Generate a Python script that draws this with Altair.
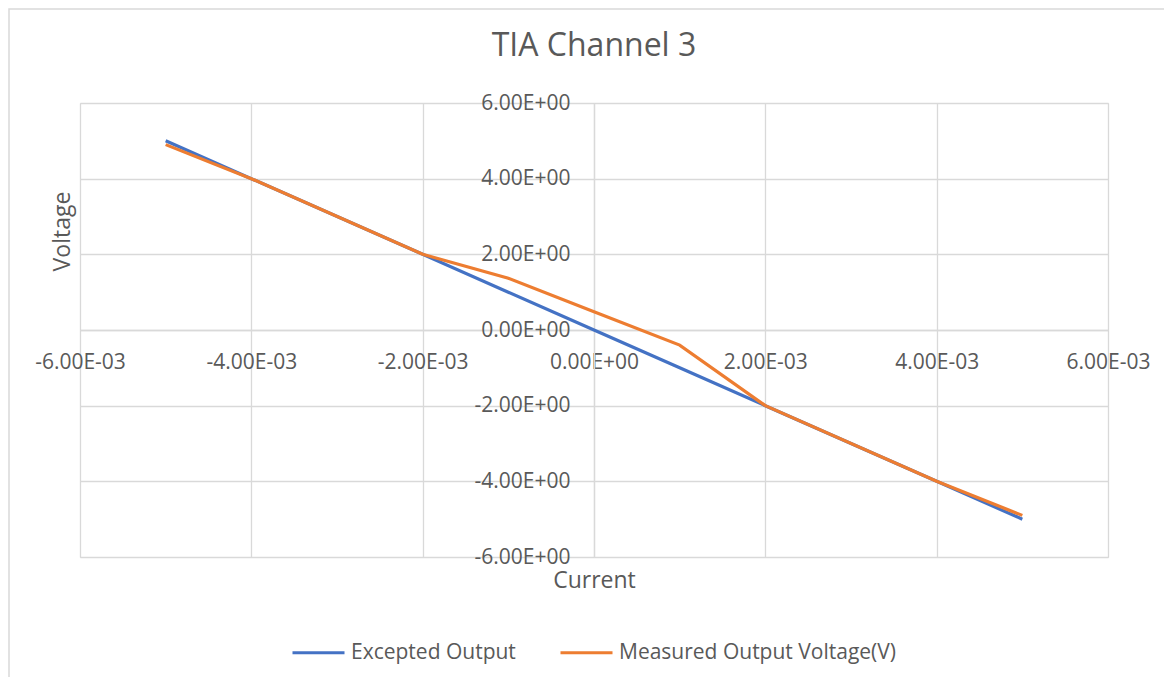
import altair as alt
import pandas as pd

# Data
current = [-5e-3, -4e-3, -2e-3, -1e-3, 0.0, 1e-3, 2e-3, 4e-3, 5e-3]
expected = [5.0, 4.0, 2.0, 1.0, 0.0, -1.0, -2.0, -4.0, -5.0]
measured = [4.9, 4.0, 2.0, 1.37, 0.48, -0.40, -2.0, -4.0, -4.9]
series_names = ["Excepted Output", "Measured Output Voltage(V)"]
series_colors = ["#4472C4", "#ED7D31"]

x_ticks = [-6, -4, -2, 0, 2, 4, 6]  # in units of 1e-3
x_labels = ["-6.00E-03", "-4.00E-03", "-2.00E-03", "0.00E+00", "2.00E-03", "4.00E-03", "6.00E-03"]
y_ticks = [-6, -4, -2, 0, 2, 4, 6]
y_labels = ["-6.00E+00", "-4.00E+00", "-2.00E+00", "0.00E+00", "2.00E+00", "4.00E+00", "6.00E+00"]

rows = []
for i, c in enumerate(current):
    rows.append({"Current": c, "Voltage": expected[i], "Series": series_names[0], "order": i})
for i, c in enumerate(current):
    rows.append({"Current": c, "Voltage": measured[i], "Series": series_names[1], "order": i})
df = pd.DataFrame(rows)

W, H = 1028, 454
FONT = "Open Sans"
TXT = "#595959"
GRID = "#d9d9d9"

xv = [t / 1000 for t in x_ticks]
yv = [float(t) for t in y_ticks]

x_label_expr = "[" + ",".join("'%s'" % s for s in x_labels) + "][indexof([" + ",".join(str(t) for t in x_ticks) + "], round(datum.value*1000))]"
y_label_expr = "[" + ",".join("'%s'" % s for s in y_labels) + "][indexof([" + ",".join(str(t) for t in y_ticks) + "], round(datum.value))]"

xscale = alt.Scale(domain=[-0.006, 0.006], nice=False, zero=False)
yscale = alt.Scale(domain=[-6, 6], nice=False, zero=False)

base = alt.Chart(df)

lines = base.mark_line(strokeWidth=3.2, clip=False).encode(
    x=alt.X("Current:Q", scale=xscale,
            axis=alt.Axis(values=xv, grid=True, gridColor=GRID, gridWidth=1.3,
                          labels=False, ticks=False, domain=False, orient="bottom",
                          title="Current", titleFont=FONT, titleFontSize=23,
                          titleFontWeight="normal", titleColor=TXT,
                          titleX=514, titleY=23, titleBaseline="middle",
                          titleAlign="center")),
    y=alt.Y("Voltage:Q", scale=yscale,
            axis=alt.Axis(values=yv, grid=True, gridColor=GRID, gridWidth=1.3,
                          labels=False, ticks=False, domain=False, orient="left",
                          title="Voltage", titleFont=FONT, titleFontSize=23,
                          titleFontWeight="normal", titleColor=TXT,
                          titleX=-18, titleY=128, titleBaseline="middle", titleAlign="center",
                          titleAngle=270)),
    color=alt.Color("Series:N",
                    scale=alt.Scale(domain=series_names, range=series_colors),
                    legend=alt.Legend(title=None, orient="none", direction="horizontal",
                                      legendX=211, legendY=522,
                                      symbolType="stroke", symbolSize=2704,
                                      symbolStrokeWidth=3, labelFont=FONT,
                                      labelFontSize=21, labelColor=TXT, labelLimit=500,
                                      labelOffset=5, columnPadding=38)),
    order="order:Q",
)

labels_layer = base.mark_point(opacity=0).encode(
    x=alt.X("Current:Q", scale=xscale,
            axis=alt.Axis(values=xv, grid=False, ticks=False, domain=True,
                          domainColor=GRID, domainWidth=1.3, orient="bottom",
                          offset=-227, labelExpr=x_label_expr, labelFont=FONT,
                          labelFontSize=21, labelColor=TXT, labelPadding=32,
                          labelBaseline="middle", labelFlush=False, labelOverlap=False,
                          labelBound=False, title=None)),
    y=alt.Y("Voltage:Q", scale=yscale,
            axis=alt.Axis(values=yv, grid=False, ticks=False, domain=True,
                          domainColor=GRID, domainWidth=1.3, orient="left",
                          offset=-514, labelExpr=y_label_expr, labelFont=FONT,
                          labelFontSize=21, labelColor=TXT, labelPadding=24,
                          labelFlush=False, labelOverlap=False, labelBound=False,
                          title=None)),
)

frame = alt.Chart(pd.DataFrame({"a": [0]})).mark_rect(
    fill=None, stroke="#d9d9d9", strokeWidth=1.5, clip=False
).encode(
    x=alt.value(-71), x2=alt.value(1200), y=alt.value(-94), y2=alt.value(700)
)

chart = alt.layer(frame, lines, labels_layer).resolve_axis(
    x="independent", y="independent"
).resolve_scale(x="shared", y="shared").properties(
    width=W, height=H,
    title=alt.TitleParams("TIA Channel 3", font=FONT, fontSize=32, fontWeight="normal",
                          color=TXT, anchor="middle", offset=0, baseline="middle", dy=70),
    padding={"left": 72, "top": 95, "right": 56, "bottom": 120},
    autosize=alt.AutoSizeParams(type="none"),
).configure_view(stroke=None).configure(background="white")

chart.save("out.html", embed_options={"renderer": "svg", "actions": False})
